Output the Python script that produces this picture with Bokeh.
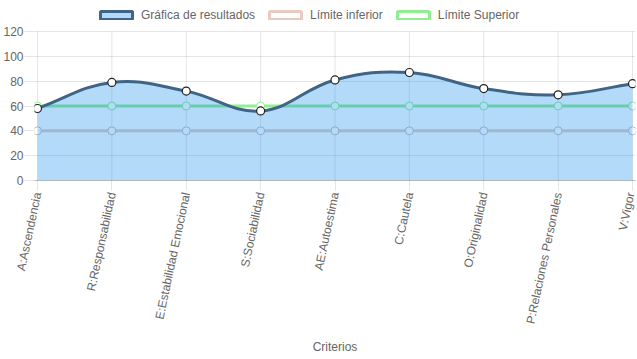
import numpy as np
from bokeh.plotting import figure
from bokeh.models import (Range1d, FixedTicker, Legend, LegendItem)
from bokeh.embed import file_html
from bokeh.resources import INLINE

categories = ["A:Ascendencia", "R:Responsabilidad", "E:Estabilidad Emocional",
              "S:Sociabilidad", "AE:Autoestima", "C:Cautela", "O:Originalidad",
              "P:Relaciones Personales", "V:Vigor"]
resultados = [58, 79, 72, 56, 81, 87, 74, 69, 78]
limite_inferior = [40, 40, 40, 40, 40, 40, 40, 40, 40]
limite_superior = [60, 60, 60, 60, 60, 60, 60, 60, 60]
y_ticks = [0, 20, 40, 60, 80, 100, 120]

FONT = "Liberation Sans"
GREY = "#666666"
GRID = "rgba(0,0,0,0.1)"
RES_LINE = "#3e6588"
RES_FILL = (20, 140, 235)
INF_COL = "#e8cbc0"
SUP_COL = "#90ee90"

FW = 601          # frame width
PLOT_H = 149      # height of the 0..120 area
TOP_SPACE = 31    # room for the legend above the data area
FH = PLOT_H + TOP_SPACE
YMAX = 120
XPAD = 0.04
xs = list(range(len(categories)))

p = figure(output_backend="svg", toolbar_location=None,
           frame_width=FW, frame_height=FH,
           x_range=Range1d(-XPAD, len(categories) - 1 + XPAD),
           y_range=Range1d(0, YMAX * FH / PLOT_H),
           min_border_top=0, min_border_right=2, min_border_left=0,
           min_border_bottom=0)
p.outline_line_color = None
p.background_fill_color = "white"
p.border_fill_color = "white"

# grids
p.xgrid.grid_line_color = None
p.ygrid.ticker = FixedTicker(ticks=y_ticks)
p.ygrid.grid_line_color = GRID
p.segment(x0=xs, y0=[0] * len(xs), x1=xs, y1=[YMAX] * len(xs),
          line_color=GRID, line_width=1)

# axes
p.xaxis.ticker = FixedTicker(ticks=xs)
p.xaxis.major_label_overrides = {i: c for i, c in enumerate(categories)}
p.xaxis.major_label_orientation = np.deg2rad(78)
p.xaxis.axis_line_color = "rgba(0,0,0,0.25)"
p.xaxis.major_tick_line_color = GRID
p.xaxis.major_tick_out = 10
p.xaxis.major_tick_in = 0
p.xaxis.minor_tick_line_color = None
p.xaxis.major_label_standoff = 2
p.xaxis.axis_label = "Criterios"
p.xaxis.axis_label_standoff = 10
p.xaxis.axis_label_text_font_style = "normal"

p.yaxis.ticker = FixedTicker(ticks=y_ticks)
p.yaxis.axis_line_color = None
p.yaxis.major_tick_line_color = GRID
p.yaxis.major_tick_out = 10
p.yaxis.major_tick_in = 0
p.yaxis.minor_tick_line_color = None
p.yaxis.major_label_standoff = 1

for ax in (p.xaxis[0], p.yaxis[0]):
    ax.major_label_text_font = FONT
    ax.major_label_text_font_size = "12px"
    ax.major_label_text_color = GREY
    ax.axis_label_text_font = FONT
    ax.axis_label_text_font_size = "12px"
    ax.axis_label_text_color = GREY

# limit lines (under the fill)
p.line(xs, limite_superior, line_color=SUP_COL, line_width=3)
p.scatter(xs, limite_superior, size=8, fill_color="white", line_color=SUP_COL, line_width=1)
p.line(xs, limite_inferior, line_color=INF_COL, line_width=3)
p.scatter(xs, limite_inferior, size=8, fill_color="white", line_color="#c8b8c0", line_width=1)

# Chart.js style spline (tension 0.4) computed in pixel space
sx = FW / (len(categories) - 1 + 2 * XPAD)
sy = PLOT_H / YMAX
px = np.array(xs, float) * sx
py = np.array(resultados, float) * sy
n = len(px)
t = 0.4
cp_prev = np.zeros((n, 2))
cp_next = np.zeros((n, 2))
for i in range(n):
    pi = max(i - 1, 0)
    ni = min(i + 1, n - 1)
    d01 = np.hypot(px[i] - px[pi], py[i] - py[pi])
    d12 = np.hypot(px[ni] - px[i], py[ni] - py[i])
    tot = d01 + d12
    s01 = d01 / tot if tot else 0
    s12 = d12 / tot if tot else 0
    fa, fb = t * s01, t * s12
    cp_prev[i] = (px[i] - fa * (px[ni] - px[pi]), py[i] - fa * (py[ni] - py[pi]))
    cp_next[i] = (px[i] + fb * (px[ni] - px[pi]), py[i] + fb * (py[ni] - py[pi]))
cp_prev[:, 1] = np.clip(cp_prev[:, 1], 0, PLOT_H)
cp_next[:, 1] = np.clip(cp_next[:, 1], 0, PLOT_H)
cp_prev[:, 0] /= sx; cp_prev[:, 1] /= sy
cp_next[:, 0] /= sx; cp_next[:, 1] /= sy

X0 = np.array(xs[:-1], float); Y0 = np.array(resultados[:-1], float)
X1 = np.array(xs[1:], float); Y1 = np.array(resultados[1:], float)
C0x, C0y = cp_next[:-1, 0], cp_next[:-1, 1]
C1x, C1y = cp_prev[1:, 0], cp_prev[1:, 1]

# fill polygon from the bezier segments
tt = np.linspace(0, 1, 40)
fx, fy = [], []
for k in range(n - 1):
    a = (1 - tt) ** 3; b = 3 * (1 - tt) ** 2 * tt; c = 3 * (1 - tt) * tt ** 2; d = tt ** 3
    fx.extend(a * X0[k] + b * C0x[k] + c * C1x[k] + d * X1[k])
    fy.extend(a * Y0[k] + b * C0y[k] + c * C1y[k] + d * Y1[k])
p.varea(x=fx, y1=[0] * len(fx), y2=fy, fill_color=RES_FILL, fill_alpha=0.32)

p.bezier(x0=X0, y0=Y0, x1=X1, y1=Y1, cx0=C0x, cy0=C0y, cx1=C1x, cy1=C1y,
         line_color=RES_LINE, line_width=3)
p.scatter(xs, resultados, size=8, fill_color="white", line_color="#222222", line_width=1.2)

# legend (dummy boxes)
nan = [float("nan")]
r1 = p.quad(left=nan, right=nan, top=nan, bottom=nan, fill_color=RES_FILL, fill_alpha=0.32,
            line_color=RES_LINE, line_width=3)
r2 = p.quad(left=nan, right=nan, top=nan, bottom=nan, fill_color="white",
            line_color=INF_COL, line_width=3)
r3 = p.quad(left=nan, right=nan, top=nan, bottom=nan, fill_color="white",
            line_color=SUP_COL, line_width=3)
legend = Legend(items=[LegendItem(label="Gráfica de resultados", renderers=[r1]),
                       LegendItem(label="Límite inferior", renderers=[r2]),
                       LegendItem(label="Límite Superior", renderers=[r3])],
                orientation="horizontal", location=(62, FH - 22),
                glyph_width=40, glyph_height=10, label_standoff=5, spacing=10,
                padding=0, margin=0, border_line_color=None, background_fill_alpha=0,
                label_text_font=FONT, label_text_font_size="12px", label_text_color=GREY)
p.add_layout(legend, "center")

open("out.html", "w").write(file_html(p, INLINE))
